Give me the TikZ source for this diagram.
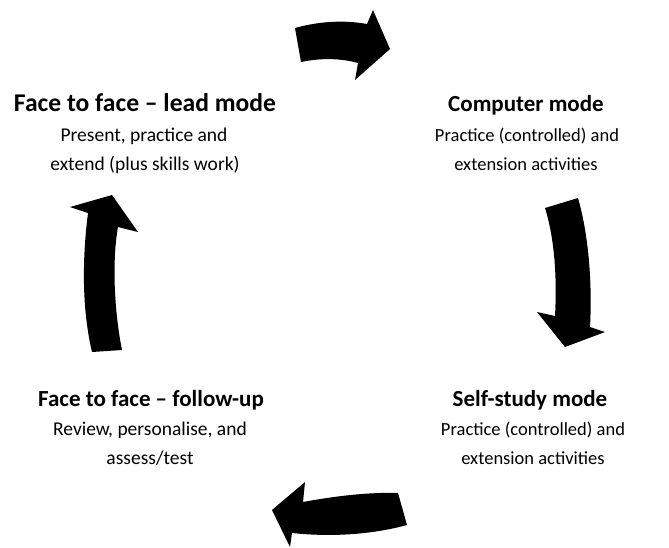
\documentclass[tikz,border=0pt]{standalone}
\usepackage{fontspec}
\setmainfont{Carlito}
\begin{document}
\begin{tikzpicture}[x=1pt,y=-1pt,
  ttl/.style={anchor=base,font=\fontsize{25.6}{30}\selectfont\bfseries,inner sep=0pt},
  ttlb/.style={anchor=base,font=\fontsize{23}{28}\selectfont\bfseries,inner sep=0pt},
  subl/.style={anchor=base,font=\fontsize{19.5}{24}\selectfont,inner sep=0pt},
  subr/.style={anchor=base,font=\fontsize{18.5}{22}\selectfont,inner sep=0pt},
  cyc/.style={fill=black,draw=none}]
\useasboundingbox (0,0) rectangle (669,547);
% labels
\node[ttl] (t1) at (145,111) {Face to face -- lead mode};
\node[subl] (t1a) at (144,141) {Present, practice and};
\node[subl] (t1b) at (145,170) {extend (plus skills work)};
\node[ttlb] (t2) at (526,111) {Computer mode};
\node[subr] (t2a) at (527,141) {Practice (controlled) and};
\node[subr] (t2b) at (526,170) {extension activities};
\node[ttlb] (t3) at (530,406) {Self-study mode};
\node[subr] (t3a) at (533,435) {Practice (controlled) and};
\node[subr] (t3b) at (533,464) {extension activities};
\node[ttlb] (t4) at (151,406) {Face to face -- follow-up};
\node[subl] (t4a) at (150,435) {Review, personalise, and};
\node[subl] (t4b) at (150,464) {assess/test};
% arrows
\fill[cyc] (295,28) .. controls (320,21) and (345,20) .. (367,24) -- (373,10) -- (390,49) -- (355,80) -- (358,63) .. controls (340,58) and (320,58) .. (301,62) -- cycle;
\fill[cyc] (545,208) -- (578,198) .. controls (590,240) and (592,290) .. (590,327) -- (605,332) -- (565,347) -- (537,312) -- (555,316) .. controls (557,280) and (555,240) .. (545,208) -- cycle;
\fill[cyc] (398,493) -- (407,525) .. controls (370,535) and (330,537) .. (292,533) -- (290,547) -- (272,510) -- (305,482) -- (303,502) .. controls (335,496) and (370,492) .. (398,493) -- cycle;
\fill[cyc] (92,352) .. controls (82,310) and (82,260) .. (88,213) -- (70,207) -- (112,195) -- (138,232) -- (118,227) .. controls (112,260) and (114,310) .. (122,350) -- cycle;
\end{tikzpicture}
\end{document}
